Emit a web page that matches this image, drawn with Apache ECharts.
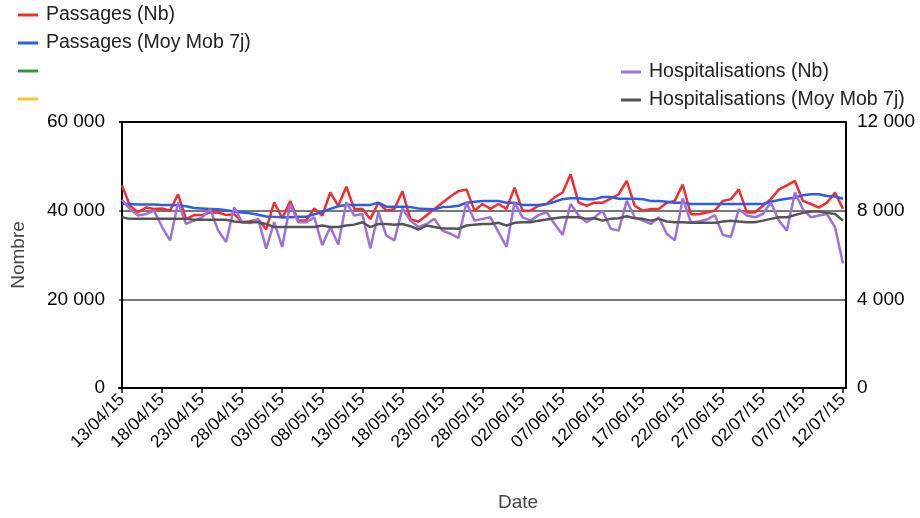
<!DOCTYPE html>
<html><head><meta charset="utf-8">
<script src="https://cdn.jsdelivr.net/npm/echarts@6/dist/echarts.min.js"></script>
<style>html,body{margin:0;padding:0;background:#fff}#c{width:920px;height:518px}</style>
</head><body><div id="c"></div>
<script>
// Categories: daily dates 13/04/15 .. 12/07/15
const firstDay = [2015, 3, 13];
const dayCount = 91;
const dates = [];
for (let i = 0; i < dayCount; i++) {
  const d = new Date(Date.UTC(firstDay[0], firstDay[1], firstDay[2] + i));
  const p = n => String(n).padStart(2, '0');
  dates.push(p(d.getUTCDate()) + '/' + p(d.getUTCMonth() + 1) + '/' + String(d.getUTCFullYear()).slice(2));
}
// labelled dates: every 5th day
const labelIdx = [0,5,10,15,20,25,30,35,40,45,50,55,60,65,70,75,80,85,90];

const passagesNb = [45700,41100,39600,40700,40400,40500,40000,43700,38100,39000,
  39000,39600,39600,39000,39200,37400,37600,38000,35800,41900,
  38300,42200,37800,37800,40500,38900,44100,41100,45400,40400,
  40400,38100,41800,40000,40400,44400,38100,37500,38900,40400,
  41800,43200,44400,44800,40000,41500,40400,41500,40400,45200,
  40000,40000,41100,41500,43000,44100,48200,41800,41100,41800,
  41800,42700,43700,46700,41100,40000,40400,40400,41800,42200,
  45900,39200,39200,39600,40000,42200,42600,44800,39600,39600,
  41100,42600,44800,45700,46700,42200,41500,40700,41800,44100,40400];

const passagesMoy = [41500,41500,41400,41400,41400,41300,41300,41200,41000,40600,
  40500,40400,40300,40100,39800,39600,39400,39100,38700,38600,
  38500,38500,38600,38600,39200,39700,40400,41000,41300,41300,
  41300,41300,41800,40900,40900,40900,40800,40500,40400,40300,
  40800,40900,41100,41800,42000,42200,42200,42200,41800,41800,
  41300,41300,41300,41500,42000,42600,42800,42800,42600,42600,
  43100,43100,42700,42700,42700,42600,42200,42200,42000,41800,
  41800,41500,41500,41500,41500,41500,41500,41500,41500,41500,
  41500,42000,42400,42700,42900,43500,43700,43700,43300,43200,42700];

const hospNb = [8490,8070,7780,7850,8000,7260,6660,8370,7400,7550,
  7700,8070,7110,6590,8150,7480,7440,7630,6290,7480,
  6360,8300,7480,7480,7700,6440,7260,6470,8370,7780,
  7850,6290,7930,6880,6660,8100,7550,7260,7400,7630,
  7100,6960,6770,8370,7550,7630,7700,7030,6360,8370,
  7700,7550,7800,7930,7400,6910,8300,7780,7480,7700,
  8000,7180,7100,8440,7700,7550,7400,7700,6960,6660,
  8550,7480,7510,7600,7800,6910,6810,8070,7780,7700,
  7850,8370,7550,7100,8820,8070,7700,7780,7850,7260,5620];

const hospMoy = [7700,7630,7630,7630,7630,7630,7630,7630,7630,7590,
  7590,7590,7590,7590,7510,7480,7480,7480,7400,7260,
  7260,7260,7260,7260,7260,7330,7260,7260,7330,7370,
  7480,7260,7400,7400,7370,7400,7300,7150,7330,7260,
  7200,7200,7180,7330,7370,7400,7400,7450,7330,7450,
  7480,7480,7550,7600,7660,7700,7700,7700,7630,7660,
  7550,7630,7660,7750,7660,7630,7550,7630,7510,7480,
  7480,7450,7450,7450,7450,7510,7550,7510,7480,7480,
  7550,7630,7700,7700,7800,7900,7960,7960,7900,7850,7550];

const leftTicks = ['0', '20 000', '40 000', '60 000'];
const rightTicks = ['0', '4 000', '8 000', '12 000'];

const names = {
  pNb: 'Passages (Nb)', pMoy: 'Passages (Moy Mob 7j)',
  green: '_green', yellow: '_yellow',
  hNb: 'Hospitalisations (Nb)', hMoy: 'Hospitalisations (Moy Mob 7j)'
};

const pair = arr => arr.map((v, i) => [i, v]);
const FONT = 'Arial, "Liberation Sans", sans-serif';
const chart = echarts.init(document.getElementById('c'), null, {renderer: 'canvas'});
const legendText = {fontSize: 19.5, color: '#222', fontFamily: FONT, lineHeight: 20, height: 20, padding: [0, 0, 0, 3]};
chart.setOption({
  animation: false,
  backgroundColor: '#fff',
  grid: {left: 119, right: 74, top: 122, bottom: 130, containLabel: false},
  legend: [
    {orient: 'vertical', left: 18, top: 5, padding: 0, itemWidth: 20, itemHeight: 3, itemGap: 8, icon: 'rect',
     selectedMode: false, data: [names.pNb, names.pMoy, names.green, names.yellow],
     formatter: n => n.charAt(0) === '_' ? '' : n, textStyle: legendText},
    {orient: 'vertical', left: 621, top: 62, padding: 0, itemWidth: 20, itemHeight: 3, itemGap: 8, icon: 'rect',
     selectedMode: false, data: [names.hNb, names.hMoy], textStyle: legendText}
  ],
  xAxis: {
    type: 'value', min: -0.375, max: dayCount - 1 + 0.375,
    axisLine: {onZero: false, lineStyle: {color: '#000', width: 2}},
    axisTick: {customValues: labelIdx, length: 5, lineStyle: {color: '#000', width: 1.5}},
    axisLabel: {customValues: labelIdx, rotate: 45, fontSize: 17.5, color: '#000', fontFamily: FONT, margin: 9,
      formatter: v => dates[Math.round(v)]},
    splitLine: {show: false}
  },
  yAxis: [
    {type: 'value', min: 0, max: 60000, interval: 20000,
     name: 'Nombre', nameLocation: 'middle', nameGap: 91, nameRotate: 90,
     nameTextStyle: {fontSize: 19, color: '#444', fontFamily: FONT},
     axisLine: {show: true, lineStyle: {color: '#000', width: 2}},
     axisTick: {show: false},
     axisLabel: {fontSize: 19, color: '#000', fontFamily: FONT, margin: 14,
       formatter: (v) => leftTicks[Math.round(v / 20000)]},
     splitLine: {show: true, lineStyle: {color: ['#000', '#777', '#777', '#000'], width: 2}}},
    {type: 'value', min: 0, max: 12000, interval: 4000,
     axisLine: {show: true, lineStyle: {color: '#000', width: 2}},
     axisTick: {show: false},
     axisLabel: {fontSize: 19, color: '#000', fontFamily: FONT, margin: 11,
       formatter: (v) => rightTicks[Math.round(v / 4000)]},
     splitLine: {show: false}}
  ],
  graphic: [
    {type: 'text', left: 498, top: 493, style: {text: 'Date', fontSize: 19, fill: '#444', fontFamily: FONT}}
  ],
  series: [
    {name: names.pNb, type: 'line', yAxisIndex: 0, data: pair(passagesNb), symbol: 'none',
     color: '#f52c2c', lineStyle: {width: 2.5}},
    {name: names.pMoy, type: 'line', yAxisIndex: 0, data: pair(passagesMoy), symbol: 'none',
     color: '#2b5de6', lineStyle: {width: 2.5}},
    {name: names.green, type: 'line', yAxisIndex: 0, data: [], symbol: 'none', color: '#2e9a47'},
    {name: names.yellow, type: 'line', yAxisIndex: 0, data: [], symbol: 'none', color: '#f9c42d'},
    {name: names.hNb, type: 'line', yAxisIndex: 1, data: pair(hospNb), symbol: 'none',
     color: '#9b72dc', lineStyle: {width: 2.5}},
    {name: names.hMoy, type: 'line', yAxisIndex: 1, data: pair(hospMoy), symbol: 'none',
     color: '#555555', lineStyle: {width: 2.5}}
  ]
});
</script>
</body></html>
